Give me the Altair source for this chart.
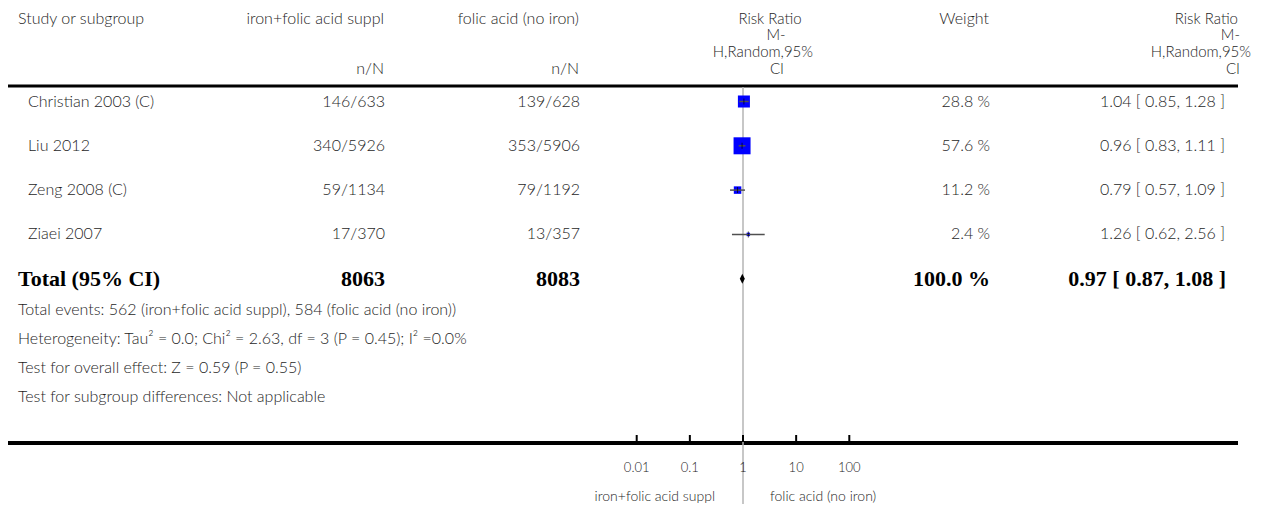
import altair as alt
import pandas as pd

# ---- data ----
studies = ["Christian 2003 (C)", "Liu 2012", "Zeng 2008 (C)", "Ziaei 2007"]
treat_nN = ["146/633", "340/5926", "59/1134", "17/370"]
ctrl_nN = ["139/628", "353/5906", "79/1192", "13/357"]
weights = [28.8, 57.6, 11.2, 2.4]
rr = [1.04, 0.96, 0.79, 1.26]
rr_lo = [0.85, 0.83, 0.57, 0.62]
rr_hi = [1.28, 1.11, 1.09, 2.56]

total_label = "Total (95% CI)"
total_treat = "8063"
total_ctrl = "8083"
total_weight = 100.0
total_rr, total_lo, total_hi = 0.97, 0.87, 1.08

footnotes = [
    "Total events: 562 (iron+folic acid suppl), 584 (folic acid (no iron))",
    "Heterogeneity: Tau\u00b2 = 0.0; Chi\u00b2 = 2.63, df = 3 (P = 0.45); I\u00b2 =0.0%",
    "Test for overall effect: Z = 0.59 (P = 0.55)",
    "Test for subgroup differences: Not applicable",
]
tick_values = [0.01, 0.1, 1, 10, 100]
tick_labels = ["0.01", "0.1", "1", "10", "100"]
favours_left = "iron+folic acid suppl"
favours_right = "folic acid (no iron)"

hdr_study = "Study or subgroup"
hdr_treat = "iron+folic acid suppl"
hdr_ctrl = "folic acid (no iron)"
hdr_nN = "n/N"
hdr_rr = ["Risk Ratio", "M-", "H,Random,95%", "CI"]
hdr_weight = "Weight"

# ---- styling ----
FONT = "Lato"
SERIF = "Liberation Serif"
TXT = "#1e1e1e"
FS = 16
FS_HDR = 15
FS_NOTE = 16
OFF = 8  # page margin

def px(v):
    return v - OFF

df = pd.DataFrame({
    "idx": list(range(len(studies))),
    "study": studies,
    "treat": treat_nN,
    "ctrl": ctrl_nN,
    "weight": weights,
    "rr": rr,
    "lo": rr_lo,
    "hi": rr_hi,
})
df["wlab"] = [f"{w:.1f} %" for w in weights]
df["rrlab"] = [f"{a:.2f} [ {b:.2f}, {c:.2f} ]" for a, b, c in zip(rr, rr_lo, rr_hi)]

tot = pd.DataFrame({
    "idx": [len(studies)],
    "label": [total_label],
    "treat": [total_treat],
    "ctrl": [total_ctrl],
    "wlab": [f"{total_weight:.1f} %"],
    "rr": [total_rr],
    "lo": [total_lo],
    "hi": [total_hi],
    "rrlab": [f"{total_rr:.2f} [ {total_lo:.2f}, {total_hi:.2f} ]"],
})

ticks = pd.DataFrame({"v": tick_values, "lab": tick_labels})
one = pd.DataFrame({"v": [1]})

xs = alt.Scale(type="log", domain=[0.01, 100], range=[px(636.7), px(849.3)], nice=False)
ys = alt.Scale(domain=[0, 4], range=[px(101.5), px(278.7)], nice=False, zero=False)
Y = alt.Y("idx:Q", scale=ys, axis=None)

layers = []

def stext(s, x, y, align="left", size=FS, font=FONT, weight=300, color=TXT):
    d = pd.DataFrame({"t": [s]})
    return alt.Chart(d).mark_text(
        align=align, baseline="middle", font=font, fontSize=size,
        fontWeight=weight, color=color
    ).encode(x=alt.value(px(x)), y=alt.value(px(y)), text="t:N")

# headers
H1, H2, H3, H4 = 19, 35, 52, 69
layers += [
    stext(hdr_study, 18, H1),
    stext(hdr_treat, 384, H1, "right"),
    stext(hdr_ctrl, 579, H1, "right"),
    stext(hdr_nN, 384, H4, "right"),
    stext(hdr_nN, 579, H4, "right"),
    stext(hdr_weight, 989, H1, "right"),
    stext(hdr_rr[0], 770, H1, "center", size=FS_HDR),
    stext(hdr_rr[1], 776, H2, "center", size=FS_HDR),
    stext(hdr_rr[2], 813, H3, "right", size=FS_HDR),
    stext(hdr_rr[3], 777, H4, "center", size=FS_HDR),
    stext(hdr_rr[0], 1238, H1, "right", size=FS_HDR),
    stext(hdr_rr[1], 1240, H2, "right", size=FS_HDR),
    stext(hdr_rr[2], 1251, H3, "right", size=FS_HDR),
    stext(hdr_rr[3], 1240, H4, "right", size=FS_HDR),
]

# horizontal separator lines
layers.append(alt.Chart(one).mark_rule(color="black", strokeWidth=3).encode(
    x=alt.value(0), x2=alt.value(px(1238)), y=alt.value(px(86))))
layers.append(alt.Chart(one).mark_rule(color="black", strokeWidth=4).encode(
    x=alt.value(0), x2=alt.value(px(1238)), y=alt.value(px(443))))

# vertical line at RR = 1
layers.append(alt.Chart(one).mark_rule(color="#b4b4b4", strokeWidth=1.5).encode(
    x=alt.X("v:Q", scale=xs, axis=None), y=alt.value(px(87)), y2=alt.value(px(512))))

# study columns
base = alt.Chart(df)
def col(field, x, align):
    return base.mark_text(align=align, baseline="middle", font=FONT, fontSize=FS,
                          fontWeight=300, color=TXT).encode(
        x=alt.value(px(x)), y=Y, text=f"{field}:N")

layers += [
    col("study", 28, "left"),
    col("treat", 385, "right"),
    col("ctrl", 580, "right"),
    col("wlab", 990, "right"),
    col("rrlab", 1225, "right"),
]

# squares, CI lines, point ticks
layers.append(base.mark_square(filled=True, color="#0000ff", opacity=1).encode(
    x=alt.X("rr:Q", scale=xs, axis=None), y=Y,
    size=alt.Size("weight:Q", scale=alt.Scale(domain=[0, 57.6], range=[0, 289]), legend=None)))
layers.append(base.mark_rule(color="#505050", strokeWidth=1.5).encode(
    x=alt.X("lo:Q", scale=xs, axis=None), x2="hi:Q", y=Y))
layers.append(base.mark_tick(orient="vertical", color="black", size=6, thickness=1).encode(
    x=alt.X("rr:Q", scale=xs, axis=None), y=Y))

# total row
tbase = alt.Chart(tot)
def tcol(field, x, align):
    return tbase.mark_text(align=align, baseline="middle", font=SERIF, fontSize=22,
                           fontWeight="bold", color="black").encode(
        x=alt.value(px(x)), y=alt.Y("idx:Q", scale=ys, axis=None), text=f"{field}:N")
layers += [
    tcol("label", 18, "left"),
    tcol("treat", 385, "right"),
    tcol("ctrl", 580, "right"),
    tcol("wlab", 990, "right"),
    tcol("rrlab", 1226, "right"),
]
layers.append(tbase.mark_point(shape="M-0.5,0L0,-1L0.5,0L0,1Z", filled=True,
                               color="black", opacity=1, size=100).encode(
    x=alt.X("rr:Q", scale=xs, axis=None), y=Y))

# footnotes
for s, yy in zip(footnotes, [310, 339, 368, 397]):
    layers.append(stext(s, 18, yy, size=FS_NOTE))

# bottom axis ticks and labels
tb = alt.Chart(ticks)
layers.append(tb.mark_rule(color="black", strokeWidth=2).encode(
    x=alt.X("v:Q", scale=xs, axis=None), y=alt.value(px(435)), y2=alt.value(px(442))))
layers.append(tb.mark_text(align="center", baseline="middle", font=FONT, fontSize=13,
                           fontWeight=300, color=TXT).encode(
    x=alt.X("v:Q", scale=xs, axis=None), y=alt.value(px(468)), text="lab:N"))
layers.append(stext(favours_left, 715, 497, "right", size=14))
layers.append(stext(favours_right, 770, 497, "left", size=14))

chart = alt.layer(*layers).properties(
    width=1252, height=496, padding=0,
    autosize=alt.AutoSizeParams(type="none"),
).configure_view(stroke=None)

chart.save("out.html", embed_options={"renderer": "svg", "actions": False})
